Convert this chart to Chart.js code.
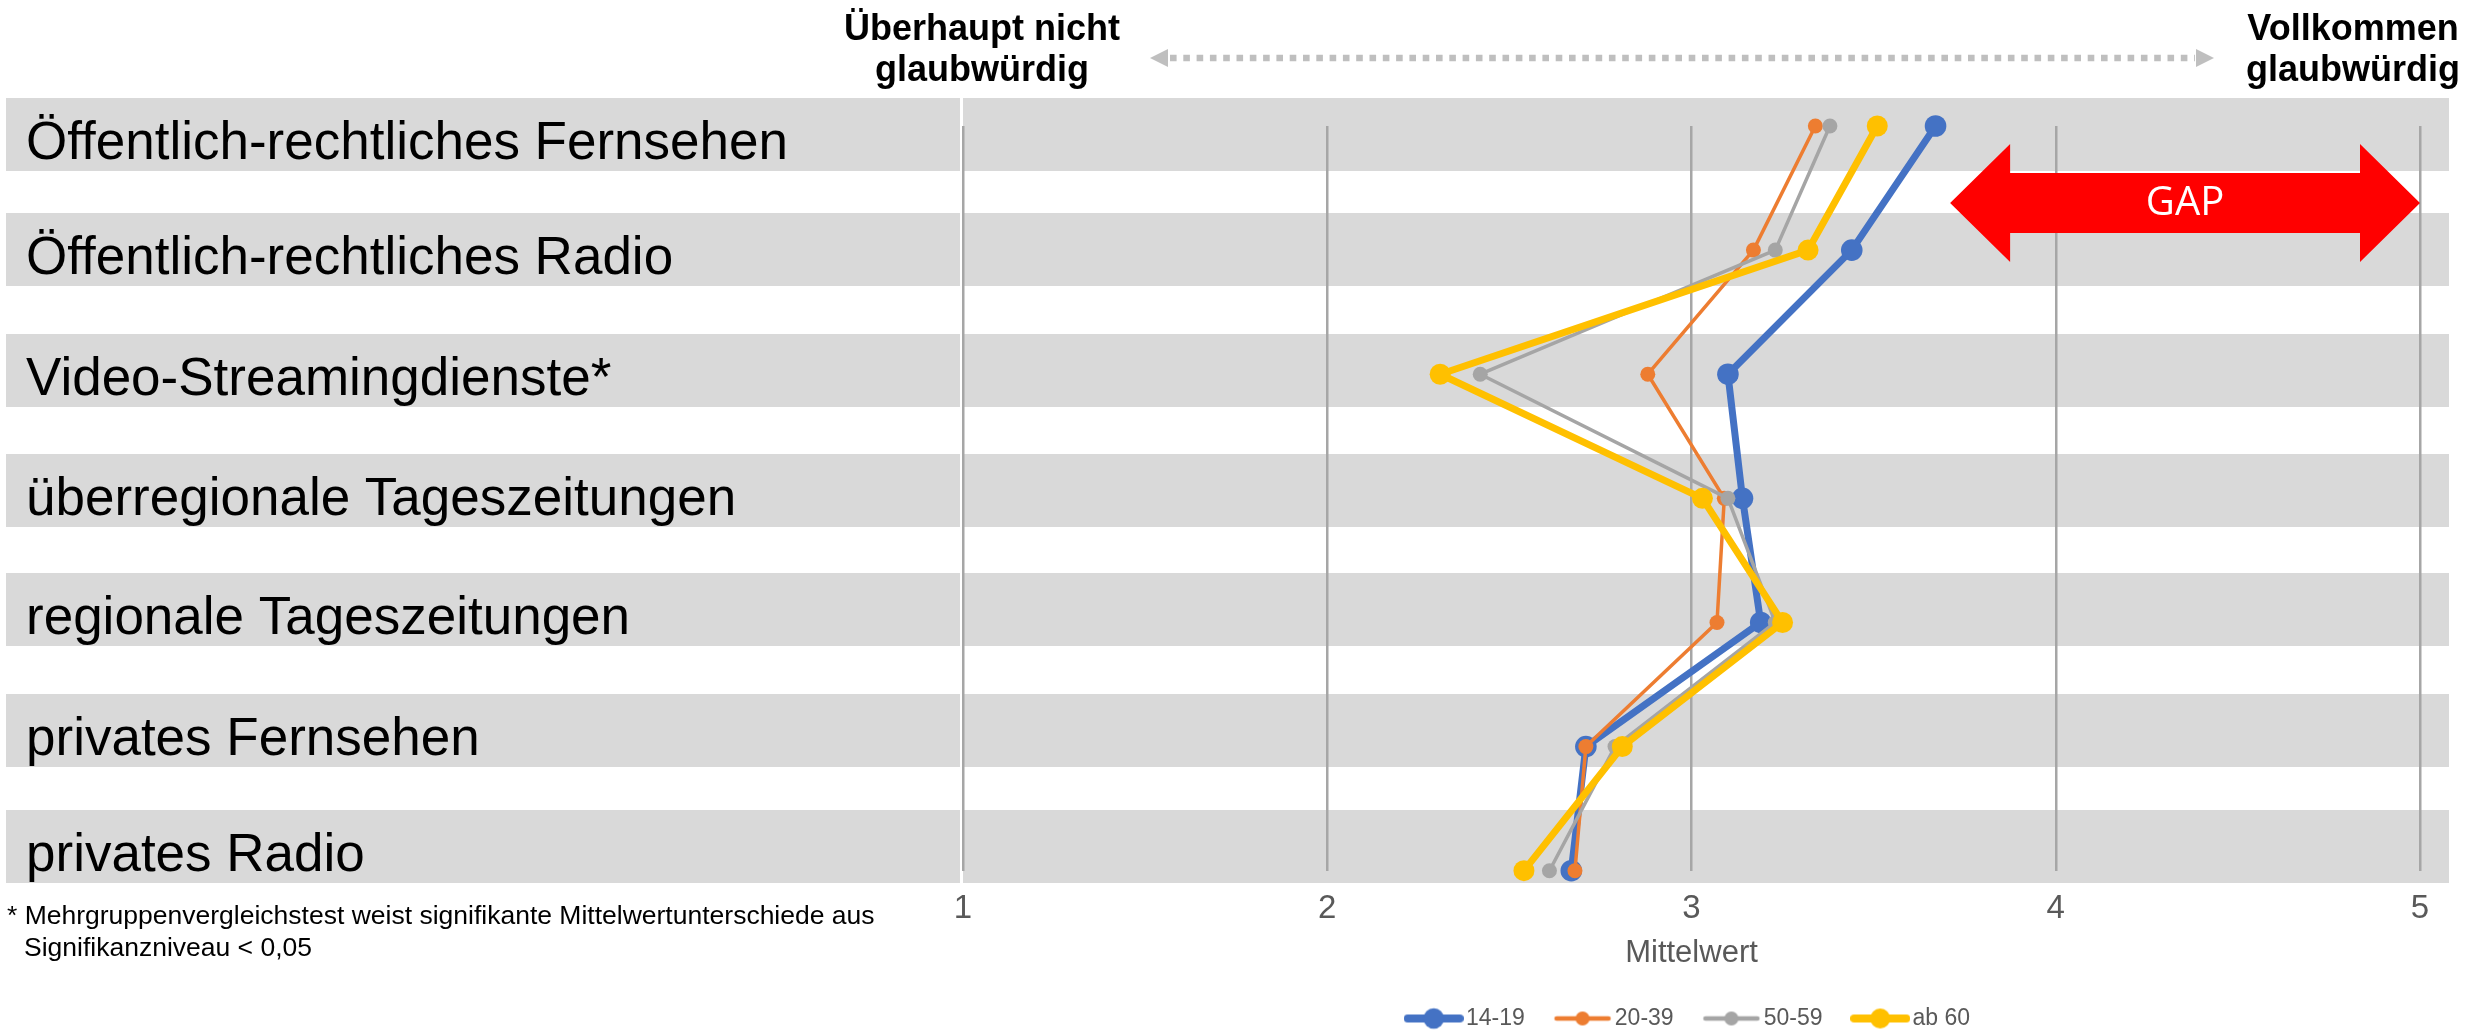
<!DOCTYPE html>
<html>
<head>
<meta charset="utf-8">
<script src="https://cdn.jsdelivr.net/npm/chart.js@4.4.1/dist/chart.umd.min.js"></script>
<style>
  html, body { margin: 0; padding: 0; background: #ffffff; }
  #wrap { width: 2475px; height: 1030px; position: relative; }
</style>
</head>
<body>
<div id="wrap"><canvas id="c" width="2475" height="1030"></canvas></div>
<script>
// ---------------- DATA ----------------
const categories = [
  "Öffentlich-rechtliches Fernsehen",
  "Öffentlich-rechtliches Radio",
  "Video-Streamingdienste*",
  "überregionale Tageszeitungen",
  "regionale Tageszeitungen",
  "privates Fernsehen",
  "privates Radio"
];
const seriesNames = ["14-19", "20-39", "50-59", "ab 60"];
const values1419 = [3.67, 3.44, 3.10, 3.14, 3.19, 2.71, 2.67];
const values2039 = [3.34, 3.17, 2.88, 3.09, 3.07, 2.71, 2.68];
const values5059 = [3.38, 3.23, 2.42, 3.10, 3.23, 2.79, 2.61];
const valuesAb60 = [3.51, 3.32, 2.31, 3.03, 3.25, 2.81, 2.54];
const xTicks = [1, 2, 3, 4, 5];
const axisTitle = "Mittelwert";
const leftEndLabel = ["Überhaupt nicht", "glaubwürdig"];
const rightEndLabel = ["Vollkommen", "glaubwürdig"];
const gapLabel = "GAP";
const gapRange = [3.71, 5];
const footnote = [
  "* Mehrgruppenvergleichstest weist signifikante Mittelwertunterschiede aus",
  "Signifikanzniveau < 0,05"
];

// ---------------- STYLE ----------------
const FONT = "'Liberation Sans', Arial, Helvetica, sans-serif";
const colors = ['#4472C4', '#ED7D31', '#A5A5A5', '#FFC000'];
const lineWidths = [7, 3.5, 3.5, 7];
const pointRadii = [10.8, 7.5, 7.5, 10.5];
const seriesValues = [values1419, values2039, values5059, valuesAb60];

// layout of the background table (bands + row labels)
const bandTops = [98, 213, 334, 454, 573, 694, 810];
const bandHeight = 73;

function markerCanvas(i) {
  const cv = document.createElement('canvas');
  cv.width = 60; cv.height = 24;
  const c = cv.getContext('2d');
  c.strokeStyle = colors[i];
  c.lineWidth = lineWidths[i] + 1;
  c.lineCap = 'round';
  c.beginPath(); c.moveTo(4, 12); c.lineTo(56, 12); c.stroke();
  c.fillStyle = colors[i];
  c.beginPath(); c.arc(30, 12, pointRadii[i] - 0.5, 0, Math.PI * 2); c.fill();
  return cv;
}

const backgroundPlugin = {
  id: 'bg',
  beforeDraw(chart) {
    const ctx = chart.ctx;
    ctx.save();
    ctx.fillStyle = '#ffffff';
    ctx.fillRect(0, 0, chart.width, chart.height);
    // bands
    ctx.fillStyle = '#D9D9D9';
    bandTops.forEach(t => {
      ctx.fillRect(6, t, 954, bandHeight);
      ctx.fillRect(963, t, 2449 - 963, bandHeight);
    });
    // row labels
    ctx.fillStyle = '#000000';
    ctx.font = '53px ' + FONT;
    ctx.textAlign = 'left';
    ctx.textBaseline = 'alphabetic';
    categories.forEach((lab, i) => ctx.fillText(lab, 26, bandTops[i] + 61));
    // end labels
    ctx.font = 'bold 36px ' + FONT;
    ctx.textAlign = 'center';
    ctx.fillText(leftEndLabel[0], 982, 40);
    ctx.fillText(leftEndLabel[1], 982, 81);
    ctx.fillText(rightEndLabel[0], 2353, 40);
    ctx.fillText(rightEndLabel[1], 2353, 81);
    // dotted double arrow
    ctx.strokeStyle = '#BFBFBF';
    ctx.fillStyle = '#BFBFBF';
    ctx.lineWidth = 6.5;
    ctx.setLineDash([6.6, 6.7]);
    ctx.beginPath(); ctx.moveTo(1170, 58); ctx.lineTo(2195, 58); ctx.stroke();
    ctx.setLineDash([]);
    ctx.beginPath(); ctx.moveTo(1150, 58); ctx.lineTo(1168, 49); ctx.lineTo(1168, 67); ctx.closePath(); ctx.fill();
    ctx.beginPath(); ctx.moveTo(2214, 58); ctx.lineTo(2196, 49); ctx.lineTo(2196, 67); ctx.closePath(); ctx.fill();
    // footnote
    ctx.fillStyle = '#000000';
    ctx.font = '26.5px ' + FONT;
    ctx.textAlign = 'left';
    ctx.fillText(footnote[0], 7, 924);
    ctx.fillText(footnote[1], 24, 956);
    ctx.restore();
  },
  afterDraw(chart) {
    const ctx = chart.ctx;
    const xs = chart.scales.x;
    const x0 = xs.getPixelForValue(gapRange[0]);
    const x1 = xs.getPixelForValue(gapRange[1]);
    const cy = 203, sh = 30, hh = 59, hl = 60;
    ctx.save();
    ctx.fillStyle = '#FF0000';
    ctx.beginPath();
    ctx.moveTo(x0, cy);
    ctx.lineTo(x0 + hl, cy - hh);
    ctx.lineTo(x0 + hl, cy - sh);
    ctx.lineTo(x1 - hl, cy - sh);
    ctx.lineTo(x1 - hl, cy - hh);
    ctx.lineTo(x1, cy);
    ctx.lineTo(x1 - hl, cy + hh);
    ctx.lineTo(x1 - hl, cy + sh);
    ctx.lineTo(x0 + hl, cy + sh);
    ctx.lineTo(x0 + hl, cy + hh);
    ctx.closePath();
    ctx.fill();
    ctx.fillStyle = '#ffffff';
    ctx.font = "40px 'Open Sans', 'Noto Sans', sans-serif";
    ctx.textAlign = 'center';
    ctx.textBaseline = 'middle';
    ctx.fillText(gapLabel, (x0 + x1) / 2, cy + 1);
    ctx.restore();
  }
};

Chart.defaults.font.family = FONT;

const datasets = seriesValues.map((vals, i) => ({
  label: seriesNames[i],
  data: vals,
  borderColor: colors[i],
  backgroundColor: colors[i],
  pointBackgroundColor: colors[i],
  pointBorderColor: colors[i],
  borderWidth: lineWidths[i],
  pointRadius: pointRadii[i],
  pointHoverRadius: pointRadii[i],
  pointBorderWidth: 0,
  borderJoinStyle: 'round',
  borderCapStyle: 'round',
  tension: 0,
  fill: false,
  clip: false,
  order: seriesValues.length - i
}));

new Chart(document.getElementById('c'), {
  type: 'line',
  data: { labels: categories, datasets },
  options: {
    indexAxis: 'y',
    responsive: false,
    animation: false,
    events: [],
    layout: { padding: { left: 963, right: 55, top: 126, bottom: -10 } },
    scales: {
      x: {
        type: 'linear',
        position: 'bottom',
        min: 1,
        max: 5,
        afterBuildTicks: (s) => { s.ticks = xTicks.map(v => ({ value: v })); },
        ticks: { color: '#595959', font: { size: 33 }, padding: 18, maxRotation: 0, autoSkip: false },
        grid: { color: '#A6A6A6', lineWidth: 2.5, drawTicks: false },
        border: { display: false },
        title: {
          display: true, text: axisTitle, color: '#595959',
          font: { size: 31, lineHeight: '13.4px' },
          padding: { top: 0, bottom: 10.3 }
        }
      },
      y: {
        type: 'category',
        display: false,
        offset: false
      }
    },
    plugins: {
      tooltip: { enabled: false },
      legend: {
        position: 'bottom',
        align: 'center',
        labels: {
          usePointStyle: true,
          pointStyleWidth: 41.5,
          padding: 37,
          color: '#595959',
          font: { size: 23 },
          generateLabels: () => seriesNames.map((n, i) => ({
            text: n,
            pointStyle: markerCanvas(i),
            fillStyle: colors[i],
            strokeStyle: colors[i],
            fontColor: '#595959',
            lineWidth: 0,
            hidden: false,
            datasetIndex: i
          }))
        }
      }
    }
  },
  plugins: [backgroundPlugin]
});
</script>
</body>
</html>
